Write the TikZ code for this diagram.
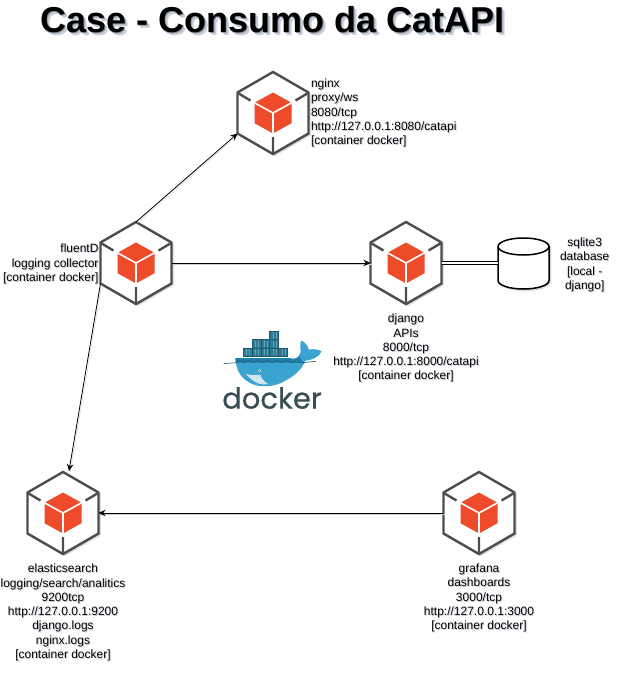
\documentclass[tikz,border=0pt]{standalone}
\usepackage{fontspec}
\setmainfont{Liberation Sans}
\newfontfamily\dockerfont[FakeBold=0.6]{Poppins}
\usepackage{xcolor}
\usetikzlibrary{positioning,arrows.meta,shapes.geometric,shadows.blur}

\definecolor{cubered}{HTML}{EE4B2B}
\definecolor{cubeline}{HTML}{4D4D4D}
\definecolor{softgray}{HTML}{C9CED6}
\definecolor{titlegray}{HTML}{8A94A6}
\definecolor{whalelight}{HTML}{3BA3CF}
\definecolor{whaledark}{HTML}{1E7FA8}
\definecolor{boxteal}{HTML}{2B7C96}
\definecolor{boxdark}{HTML}{1A5A70}
\definecolor{bellywhite}{HTML}{CFE8EE}
\definecolor{dockerink}{HTML}{3A4D54}

\newcommand{\sh}[1]{\leavevmode\rlap{\hspace{1pt}\raisebox{-1pt}{\textcolor{softgray}{#1}}}#1}
\newcommand{\shtitle}[1]{\leavevmode\rlap{\hspace{3pt}\raisebox{-3pt}{\textcolor{softgray}{#1}}}\rlap{\hspace{1.5pt}\raisebox{-1.5pt}{\textcolor{titlegray}{#1}}}#1}

\tikzset{
    softshadow/.style={blur shadow={shadow xshift=1.5pt,shadow yshift=-1.5pt,shadow blur steps=4,shadow blur radius=1.5pt,shadow opacity=25}},
    cubebox/.style={regular polygon,regular polygon sides=6,regular polygon rotate=30,minimum size=82pt,inner sep=0pt,
      outer sep=0pt,draw=cubeline,line width=2.4pt,fill=white,softshadow,
      path picture={
        \begin{scope}[shift={(path picture bounding box.center)}]
          \draw[cubeline,line width=2.4pt] (-36,-20.5) -- (-22.5,-12.5) (36,-20.5) -- (22.5,-12.5) (0,41) -- (0,24);
          \fill[cubered] (0,-20.5) -- (18.5,-10.2) -- (18.5,10.2) -- (0,20.5) -- (-18.5,10.2) -- (-18.5,-10.2) -- cycle;
          \draw[white,line width=1.6pt] (-18.5,-10.2) -- (0,0) -- (18.5,-10.2) (0,0) -- (0,20.5);
        \end{scope}}},
    caption/.style={font=\fontsize{12}{14.3}\selectfont,inner sep=0pt,outer sep=0pt},
    link/.style={-{Stealth[length=7pt,width=6.5pt]},line width=0.8pt,
      preaction={draw=softgray,-,transform canvas={xshift=1.2pt,yshift=-1.2pt}}}
}

\begin{document}
\begin{tikzpicture}[x=1pt,y=-1pt]
    \useasboundingbox (0,0) rectangle (623,675);

    \node[font=\bfseries\fontsize{36}{40}\selectfont,inner sep=0pt] (title) at (272.5,21) {\shtitle{Case - Consumo da CatAPI}};

    % containers
    \node[cubebox] (nginx) at (273,113) {};
    \node[cubebox] (fluentd) at (136,263) {};
    \node[cubebox] (django) at (406,263) {};
    \node[cubebox] (elastic) at (63,513) {};
    \node[cubebox] (grafana) at (479,513) {};
    \node[minimum width=51pt,minimum height=51pt,inner sep=0pt,outer sep=0pt] (sqlite) at (523.5,263.5) {};
    \draw[line width=1.5pt,fill=white,softshadow] ([yshift=-8.5pt]sqlite.north west) arc[start angle=180,end angle=0,x radius=25.5pt,y radius=8.5pt]
      -- ([yshift=8.5pt]sqlite.south east) arc[start angle=0,end angle=-180,x radius=25.5pt,y radius=8.5pt] -- cycle;
    \draw[line width=1.5pt] ([yshift=-8.5pt]sqlite.north west) arc[start angle=180,end angle=360,x radius=25.5pt,y radius=8.5pt];

    \node[caption,align=left,anchor=west] (nginxtxt) at (311,113.5) {\sh{nginx}\\\sh{proxy/ws}\\\sh{8080/tcp}\\\sh{http://127.0.0.1:8080/catapi}\\\sh{[container docker]}};
    \node[caption,align=right,left=2pt of fluentd.west,yshift=-1.5pt] (fluentdtxt) {\sh{fluentD}\\\sh{logging collector}\\\sh{[container docker]}};
    \node[caption,align=center,below=10pt of django] (djangotxt) {\sh{django}\\\sh{APIs}\\\sh{8000/tcp}\\\sh{http://127.0.0.1:8000/catapi}\\\sh{[container docker]}};
    \node[caption,align=center,below=10pt of elastic] (elastictxt) {\sh{elasticsearch}\\\sh{logging/search/analitics}\\\sh{9200tcp}\\\sh{http://127.0.0.1:9200}\\\sh{django.logs}\\\sh{nginx.logs}\\\sh{[container docker]}};
    \node[caption,align=center,below=10pt of grafana] (grafanatxt) {\sh{grafana}\\\sh{dashboards}\\\sh{3000/tcp}\\\sh{http://127.0.0.1:3000}\\\sh{[container docker]}};
    \node[caption,align=center,right=11pt of sqlite,yshift=-2pt] (sqlitetxt) {\sh{sqlite3}\\\sh{database}\\\sh{[local -}\\\sh{django]}};

    % connectors
    \coordinate (elastictop) at (69,471);
    \draw[link] (fluentd.90) -- (nginx.210);
    \draw[link] (fluentd.0) -- (django.180);
    \draw[link] (fluentd.210) -- (elastictop);
    \draw[link] (grafana.180) -- (elastic.0);
    \draw[double=white,double distance=2pt,line width=1pt] (django.0) -- (sqlite.west |- django.0);

    % docker whale
    \begin{scope}[shift={(222,328)},x=0.3333pt,y=-0.3333pt]
      \foreach \xa/\xb/\ya in {63/90/60,90/117/60,117/143/60,143/170/60,170/197/60,90/117/35,117/143/35,143/170/35,143/170/10}{
        \draw[fill=boxteal,draw=boxdark,line width=0.5pt] (\xa,\ya) rectangle (\xb,\ya+25);
        \draw[boxdark!60!white,line width=0.3pt] (\xa+9,\ya+3) -- (\xa+9,\ya+22) (\xa+18,\ya+3) -- (\xa+18,\ya+22);
      }
      \fill[whalelight] (40,90) -- (200,90) .. controls (215,95) and (232,92) .. (236,72)
        .. controls (236,60) and (232,50) .. (238,38) .. controls (248,42) and (258,52) .. (260,65)
        .. controls (272,62) and (290,64) .. (299,70) .. controls (290,90) and (265,97) .. (250,98)
        .. controls (240,125) and (215,145) .. (190,158) .. controls (160,178) and (110,180) .. (85,165)
        .. controls (55,150) and (42,125) .. (40,90) -- cycle;
      \fill[whaledark] (40,90) -- (200,90) .. controls (212,94) and (225,95) .. (232,85)
        .. controls (236,95) and (240,98) .. (245,104) -- (42,104) -- cycle;
      \fill[bellywhite] (72,138) .. controls (90,142) and (105,142) .. (115,140)
        .. controls (118,150) and (125,160) .. (138,168) .. controls (115,172) and (95,165) .. (72,138) -- cycle;
      \draw[boxdark,line width=0.6pt] (5,107) -- (42,104) .. controls (50,96) and (58,96) .. (66,104)
        .. controls (76,96) and (86,96) .. (94,104) .. controls (104,96) and (114,96) .. (122,104)
        .. controls (132,96) and (142,96) .. (150,104) .. controls (160,96) and (170,96) .. (178,104)
        .. controls (188,96) and (198,96) .. (206,104) .. controls (216,100) and (228,102) .. (240,104) -- (282,100);
      \fill[white] (113,128) circle[radius=5];
      \fill[boxdark] (113,128) circle[radius=2.5];
    \end{scope}
    \node[font=\dockerfont\fontsize{29}{31}\selectfont,text=dockerink,inner sep=0pt] (dockertxt) at (272,398) {docker};
\end{tikzpicture}
\end{document}
